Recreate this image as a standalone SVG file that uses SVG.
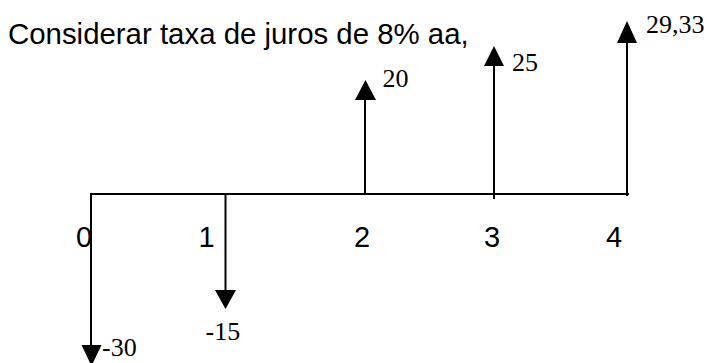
<svg xmlns="http://www.w3.org/2000/svg" width="707" height="363" viewBox="0 0 707 363">
<style>
.ln{stroke:#000;stroke-width:2;fill:none}
.ah{fill:#000}
.sans{font-family:"Liberation Sans",Arial,sans-serif;font-size:29px;fill:#000}
.serif{font-family:"Liberation Serif","Times New Roman",serif;font-size:26px;fill:#000}
</style>
<rect width="707" height="363" fill="#fff"/>
<g id="title"><text class="sans" x="8" y="43.5" style="font-size:29.4px">Considerar taxa de juros de 8% aa,</text></g>
<g id="connectors">
<line class="ln" x1="90" y1="194" x2="629" y2="194"/>
<line class="ln" x1="91" y1="193" x2="91" y2="347"/>
<polygon class="ah" points="81.5,345 101.5,345 91.5,366"/>
<line class="ln" x1="225.5" y1="193" x2="225.5" y2="291"/>
<polygon class="ah" points="215,290 236,290 225.5,309"/>
<line class="ln" x1="365" y1="195" x2="365" y2="98"/>
<polygon class="ah" points="355,100 376,100 365.5,80"/>
<line class="ln" x1="494" y1="199" x2="494" y2="65"/>
<polygon class="ah" points="484,66 504,66 494,46"/>
<line class="ln" x1="627" y1="196" x2="627" y2="42"/>
<polygon class="ah" points="617,43 637,43 627,21"/>
</g>
<g id="t0"><text class="sans" x="76" y="247">0</text><text class="serif" x="102" y="356">-30</text></g>
<g id="t1"><text class="sans" x="198.5" y="247">1</text><text class="serif" x="205.5" y="339.5">-15</text></g>
<g id="t2"><text class="sans" x="354" y="247">2</text><text class="serif" x="382.5" y="86.5">20</text></g>
<g id="t3"><text class="sans" x="484" y="247">3</text><text class="serif" x="512" y="71">25</text></g>
<g id="t4"><text class="sans" x="606" y="247">4</text><text class="serif" x="646" y="33">29,33</text></g>
</svg>
